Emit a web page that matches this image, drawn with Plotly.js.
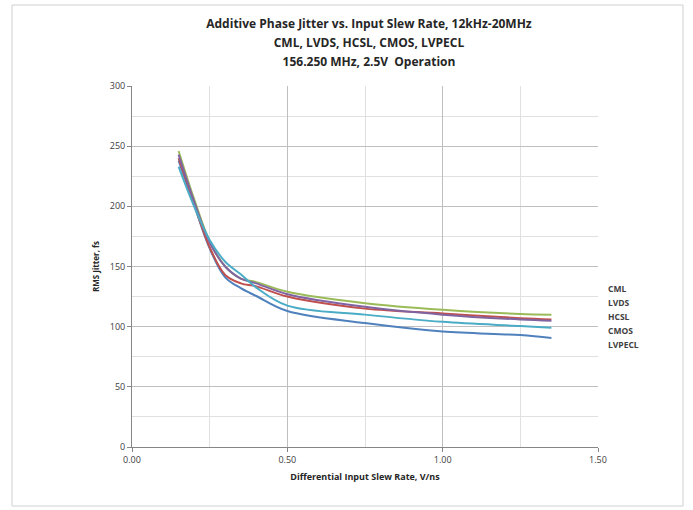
<!DOCTYPE html>
<html>
<head>
<meta charset="utf-8">
<script src="https://cdn.plot.ly/plotly-3.0.1.min.js"></script>
<style>html,body{margin:0;padding:0;background:#fff;}#chart{width:693px;height:510px;}</style>
</head>
<body>
<div id="chart"></div>
<script>
// Data
const slewRate = [0.15, 0.20, 0.25, 0.30, 0.35, 0.40, 0.50, 0.75, 1.00, 1.25, 1.35];
const seriesNames = ["CML", "LVDS", "HCSL", "CMOS", "LVPECL"];
const cml    = [238, 201, 165, 141, 132, 125.5, 113, 103, 96, 93, 90.5];
const lvds   = [240, 202, 166, 143, 136, 133.5, 125, 115, 111, 107, 106];
const hcsl   = [246, 206, 171, 150, 140, 137, 129, 119.5, 114, 110.5, 110];
const cmos   = [243, 204, 170, 150, 140, 136, 127, 116.5, 110, 106, 105];
const lvpecl = [233, 200, 172, 154, 143.5, 132.5, 117.5, 110, 104, 100.5, 99];
const seriesValues = [cml, lvds, hcsl, cmos, lvpecl];
const seriesColors = ["#4F81BD", "#C0504D", "#9BBB59", "#8064A2", "#4BACC6"];
const yTicks = [0, 50, 100, 150, 200, 250, 300];
const xTicks = [0, 0.5, 1.0, 1.5];
const xTickLabels = ["0.00", "0.50", "1.00", "1.50"];
const titleLines = [
  "Additive Phase Jitter vs. Input Slew Rate, 12kHz-20MHz",
  "CML, LVDS, HCSL, CMOS, LVPECL",
  "156.250 MHz, 2.5V  Operation"
];

const traces = seriesValues.map((vals, i) => ({
  x: slewRate, y: vals, type: "scatter", mode: "lines", name: seriesNames[i],
  line: {color: seriesColors[i], width: 2, shape: "spline", smoothing: 1},
  showlegend: false, hoverinfo: "skip"
}));

const font = "'Open Sans', 'Liberation Sans', sans-serif";
const legendAnn = seriesNames.map((n, i) => ({
  xref: "paper", yref: "paper", x: 1.018, y: (447 - (288 + 14 * i)) / 361,
  xanchor: "left", yanchor: "middle", text: "<b>" + n + "</b>", showarrow: false,
  font: {family: font, size: 8.5, color: "#404040"}
}));

const layout = {
  width: 693, height: 510,
  margin: {l: 132, r: 95, t: 86, b: 63, pad: 0},
  paper_bgcolor: "#fff", plot_bgcolor: "#fff",
  title: {
    text: titleLines.map(t => "<span style='font-size:12px'><b>" + t + "</b></span>").join("<br>"),
    font: {family: font, size: 14.5, color: "#262626"},
    x: 369 / 693, xanchor: "center", y: 1 - 28 / 510, yanchor: "top"
  },
  xaxis: {
    range: [0, 1.5], tickvals: xTicks, ticktext: xTickLabels,
    showgrid: true, gridcolor: "#bfbfbf", gridwidth: 1,
    minor: {dtick: 0.25, showgrid: true, gridcolor: "#e0e0e0", gridwidth: 1, ticks: ""},
    ticks: "outside", ticklen: 4, tickcolor: "#868686",
    showline: true, linecolor: "#868686", linewidth: 1, zeroline: false,
    tickfont: {family: font, size: 9, color: "#404040"},
    title: {text: "<b>Differential Input Slew Rate, V/ns</b>", font: {family: font, size: 9, color: "#262626"}, standoff: 8}
  },
  yaxis: {
    range: [0, 300], tickvals: yTicks,
    showgrid: true, gridcolor: "#bfbfbf", gridwidth: 1,
    minor: {dtick: 25, showgrid: true, gridcolor: "#e0e0e0", gridwidth: 1, ticks: ""},
    ticks: "outside", ticklen: 4, tickcolor: "#868686",
    showline: true, linecolor: "#868686", linewidth: 1, zeroline: false,
    tickfont: {family: font, size: 9, color: "#404040"},
    title: {text: "<b>RMS Jitter, fs</b>", font: {family: font, size: 8, color: "#262626"}, standoff: 8}
  },
  annotations: legendAnn,
  shapes: [{
    type: "rect", xref: "paper", yref: "paper",
    x0: (12 - 132) / 466, x1: (683 - 132) / 466,
    y0: (447 - 506) / 361, y1: (447 - 5) / 361,
    line: {color: "#d0d0d0", width: 1}, fillcolor: "rgba(0,0,0,0)", layer: "below"
  }]
};

Plotly.newPlot("chart", traces, layout, {displayModeBar: false, staticPlot: true});
</script>
</body>
</html>
